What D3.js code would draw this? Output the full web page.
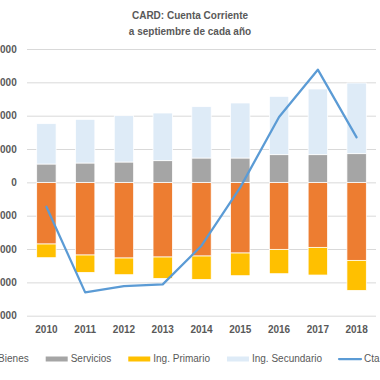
<!DOCTYPE html>
<html>
<head>
<meta charset="utf-8">
<script src="https://cdn.jsdelivr.net/npm/d3@7"></script>
<style>
  html, body { margin: 0; padding: 0; background: #fff; overflow: hidden; }
  svg { display: block; font-family: "Liberation Sans", Arial, sans-serif; }
</style>
</head>
<body>
<svg id="chart" width="380" height="380"></svg>
<script>
const years = ["2010","2011","2012","2013","2014","2015","2016","2017","2018"];
const bienes = [-18500,-21800,-22700,-22400,-22100,-21200,-20100,-19500,-23400];
const servicios = [5500,5800,6100,6500,7300,7300,8300,8300,8600];
const primario = [-4100,-5200,-5000,-6400,-7000,-6800,-7300,-8300,-9000];
const secundario = [12100,13100,13900,14300,15400,16500,17500,19700,21200];
const cuenta = [-7300,-33000,-31100,-30600,-19000,-1500,19600,33800,13500];
const yTicks = [-40000,-30000,-20000,-10000,0,10000,20000,30000,40000];
const seriesKeys = ["Bienes","Servicios","Ing. Primario","Ing. Secundario"];
const lineLabel = "Cta. Corriente";
const titleLines = ["CARD: Cuenta Corriente","a septiembre de cada año"];

const colors = {"Bienes":"#ED7D31","Servicios":"#A5A5A5","Ing. Primario":"#FFC000","Ing. Secundario":"#DEEBF7"};
const lineColor = "#5B9BD5";
const textColor = "#595959";

const svg = d3.select("#chart");
const plotL = 27, plotR = 376, plotT = 49, plotB = 315.7;

const table = years.map((yr,i)=>({year:yr,"Bienes":bienes[i],"Servicios":servicios[i],"Ing. Primario":primario[i],"Ing. Secundario":secundario[i]}));

const x = d3.scaleBand().domain(years).range([plotL,plotR]).paddingInner(0.5).paddingOuter(0.25);
const y = d3.scaleLinear().domain([-40000,40000]).range([plotB,plotT]);

// title
svg.append("g").selectAll("text").data(titleLines).join("text")
  .attr("x",190).attr("y",(d,i)=>19+i*15.5)
  .attr("text-anchor","middle").attr("font-size",10).attr("font-weight","bold")
  .attr("fill",textColor).text(d=>d);

// grid
const yAxis = d3.axisLeft(y).tickValues(yTicks).tickSize(-(plotR-plotL)).tickFormat(d3.format(","));
const gy = svg.append("g").attr("transform",`translate(${plotL},0)`).call(yAxis);
gy.select(".domain").remove();
gy.selectAll(".tick line").attr("stroke","#D9D9D9").attr("stroke-width",1);
gy.selectAll(".tick text").attr("x",-10.3).attr("fill",textColor).attr("font-size",10).attr("font-weight","bold");

// bars
const stack = d3.stack().keys(seriesKeys).offset(d3.stackOffsetDiverging);
const stacked = stack(table);
svg.append("g").selectAll("g").data(stacked).join("g")
  .attr("fill",d=>colors[d.key])
  .selectAll("rect").data(d=>d).join("rect")
  .attr("x",d=>x(d.data.year)).attr("width",x.bandwidth())
  .attr("y",d=>y(Math.max(d[0],d[1])))
  .attr("height",d=>Math.abs(y(d[0])-y(d[1])))
  .attr("stroke","#fff").attr("stroke-width",0.75);

// line
const line = d3.line().x((d,i)=>x(years[i])+x.bandwidth()/2).y(d=>y(d));
svg.append("path").datum(cuenta).attr("d",line)
  .attr("fill","none").attr("stroke",lineColor).attr("stroke-width",2.25)
  .attr("stroke-linejoin","round").attr("stroke-linecap","round");

// x axis labels
const xAxis = d3.axisBottom(x).tickSize(0).tickPadding(0);
const gx = svg.append("g").attr("transform",`translate(0,${plotB})`).call(xAxis);
gx.select(".domain").remove();
gx.selectAll(".tick text").attr("y",10).attr("dy","0.71em").attr("fill",textColor).attr("font-size",10).attr("font-weight","bold");

// legend
const legendItems = seriesKeys.concat([lineLabel]);
const lg = svg.append("g");
const items = lg.selectAll("g").data(legendItems).join("g");
items.append("text").attr("x",25).attr("y",362).attr("font-size",10).attr("fill",textColor).text(d=>d);
items.each(function(d){
  const g = d3.select(this);
  if (d === lineLabel) {
    g.append("line").attr("x1",0).attr("x2",22).attr("y1",359).attr("y2",359)
      .attr("stroke",lineColor).attr("stroke-width",2.25).attr("stroke-linecap","round");
  } else {
    g.append("rect").attr("x",0).attr("y",356.5).attr("width",22).attr("height",5).attr("fill",colors[d]);
  }
});
const widths = [];
items.select("text").each(function(){ widths.push(this.getComputedTextLength()); });
const itemW = widths.map(w=>22+3+w+17);
let cx = 45.7 - itemW[0];
items.attr("transform",(d,i)=>{ const t = `translate(${cx},0)`; cx += itemW[i]; return t; });
</script>
</body>
</html>
